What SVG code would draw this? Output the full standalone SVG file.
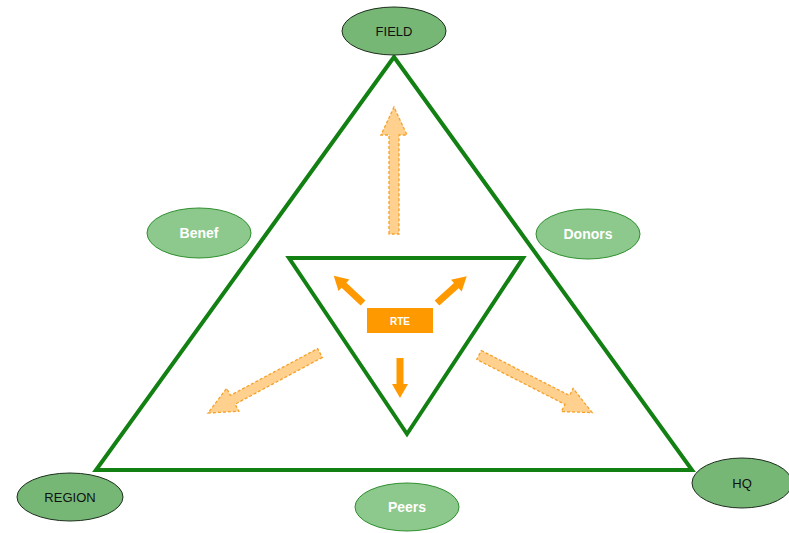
<svg xmlns="http://www.w3.org/2000/svg" width="789" height="533" viewBox="0 0 789 533">
<style>
.tri{fill:none;stroke:#138013;stroke-width:4;stroke-linejoin:miter}
.main{fill:#76b776;stroke:#1e2e1e;stroke-width:1}
.side{fill:#8dc88d;stroke:#2f8f2f;stroke-width:1}
.lbl{font-family:"Liberation Sans",Arial,sans-serif;font-size:13px;fill:#111;text-anchor:middle;dominant-baseline:central}
.slbl{font-family:"Liberation Sans",Arial,sans-serif;font-size:14px;font-weight:bold;fill:#fff;text-anchor:middle;dominant-baseline:central}
.big{fill:#ffd08e;stroke:#f5a12a;stroke-width:1.3;stroke-dasharray:3,2}
.small{fill:#ff9900;stroke:none}
</style>
<defs>
<path id="bigArrow" d="M0,-5 L99,-5 L99,-13 L127,0 L99,13 L99,5 L0,5 Z"/>
<path id="smallArrow" d="M0,-3.5 L26,-3.5 L26,-8 L40,0 L26,8 L26,3.5 L0,3.5 Z"/>
</defs>
<g id="connectors">
<polygon class="tri" points="394,57 96,470 692,470"/>
<polygon class="tri" points="289,258 523,258 407,434"/>
<use href="#bigArrow" class="big" transform="translate(394,234) rotate(-90)"/>
<use href="#bigArrow" class="big" transform="translate(320,353) rotate(151.8)"/>
<use href="#bigArrow" class="big" transform="translate(479,355) rotate(27)"/>
<use href="#smallArrow" class="small" transform="translate(363,303) rotate(-137)"/>
<use href="#smallArrow" class="small" transform="translate(437,303) rotate(-42)"/>
<use href="#smallArrow" class="small" transform="translate(400,358) rotate(90)"/>
</g>
<g id="field"><ellipse class="main" cx="394" cy="31" rx="52" ry="24"/><text class="lbl" x="394" y="31">FIELD</text></g>
<g id="region"><ellipse class="main" cx="70" cy="497" rx="53" ry="24"/><text class="lbl" x="70" y="497">REGION</text></g>
<g id="hq"><ellipse class="main" cx="742" cy="483" rx="50" ry="25"/><text class="lbl" x="742" y="483">HQ</text></g>
<g id="benef"><ellipse class="side" cx="199" cy="233" rx="52" ry="25"/><text class="slbl" x="199" y="233">Benef</text></g>
<g id="donors"><ellipse class="side" cx="588" cy="234" rx="52" ry="25"/><text class="slbl" x="588" y="234">Donors</text></g>
<g id="peers"><ellipse class="side" cx="407" cy="507" rx="52" ry="24"/><text class="slbl" x="407" y="507">Peers</text></g>
<g id="rte"><rect x="367" y="308" width="66" height="25" fill="#ff9900"/><text class="slbl" x="400" y="321" style="font-size:10px">RTE</text></g>
</svg>
